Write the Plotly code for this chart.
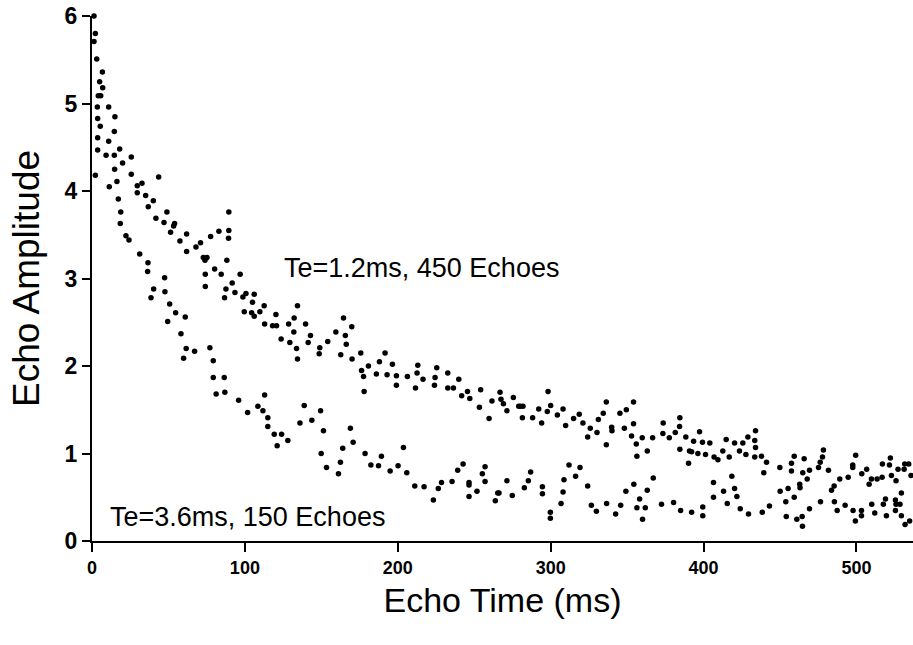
import plotly.graph_objects as go

# Te = 1.2 ms, 450 echoes (upper series): echo time (ms), amplitude
te12_time = [
    1.3, 2.2, 1.3, 3.1, 6.8, 5.0, 7.0, 5.7, 10.9, 15.0, 14.6, 18.1, 14.6, 25.7, 20.0, 25.7,
    43.6, 29.6, 32.7, 29.6, 35.1, 40.1, 36.8, 49.0, 41.8, 47.1, 54.0, 53.4, 51.4, 61.9, 57.5, 61.9,
    68.0, 71.0, 77.6, 83.0, 89.5, 89.5, 89.3, 72.8, 75.2, 73.9, 88.2, 80.2, 84.5, 74.1, 96.9, 74.1,
    91.7, 87.6, 93.5, 86.7, 100.7, 98.7, 106.1, 105.0, 99.6, 104.4, 106.1, 109.8, 112.6, 120.3,
    112.9, 118.1, 120.7, 128.6, 132.2, 134.4, 132.0, 123.7, 129.4, 133.8, 134.4,
    139.7, 142.9, 141.4, 149.0, 148.6, 154.2, 159.5, 164.5, 169.9, 165.7, 166.3, 162.7, 170.1,
    175.8, 176.3, 177.6, 178.0, 180.8, 186.0, 188.0, 191.7, 193.0, 196.5, 199.1, 199.1, 206.3,
    211.6, 213.1, 212.6, 216.5, 224.0, 224.4, 225.5, 232.7, 232.7, 236.4, 239.9, 241.8, 245.6,
    247.1, 254.2, 253.4, 259.7, 261.6, 266.9, 267.5, 269.1, 271.4, 275.6, 279.1,
    280.2, 281.9, 281.5, 288.2, 292.2, 294.1, 298.3, 297.8, 300.0, 304.4, 308.1, 309.8, 315.0,
    318.7, 321.1, 324.2, 325.9, 330.3, 331.2, 334.4, 336.4, 336.4, 339.9, 340.1, 345.3, 348.2,
    349.5, 354.2, 354.2, 352.9, 356.0, 356.4, 359.9, 363.2, 366.7, 373.6, 373.4, 377.6, 381.5,
    384.5, 384.3, 384.5, 388.4, 390.2, 390.8, 392.2, 393.5, 396.3, 397.4, 399.3, 401.3, 404.1,
    406.9, 409.4,
    412.6, 414.8, 416.8, 420.3, 423.5, 425.7, 429.0, 427.7, 434.0, 433.5, 434.0, 433.5, 437.9,
    441.2, 439.4, 449.9, 457.5, 459.3, 457.5, 465.8, 464.9, 469.3, 467.8, 475.2, 476.3, 477.8,
    478.4, 481.7, 489.1, 494.6, 497.6, 497.6, 499.5, 503.5, 506.7, 509.8, 508.3, 513.5, 516.8,
    517.0, 521.6, 522.2, 522.9, 525.9, 527.2, 531.2, 531.6, 534.2, 535.7,
]
te12_amp = [
    6.00, 5.80, 5.71, 5.51, 5.36, 5.25, 5.18, 5.09, 4.96, 4.85, 4.68, 4.48, 4.41, 4.39, 4.32, 4.19,
    4.16, 4.06, 4.09, 3.98, 3.95, 3.89, 3.82, 3.76, 3.69, 3.64, 3.63, 3.60, 3.53, 3.51, 3.43, 3.31,
    3.36, 3.41, 3.48, 3.54, 3.76, 3.55, 3.46, 3.24, 3.24, 3.21, 3.21, 3.11, 3.05, 3.05, 3.05, 2.91,
    2.95, 2.88, 2.84, 2.78, 2.83, 2.79, 2.82, 2.73, 2.62, 2.61, 2.57, 2.62, 2.69, 2.59,
    2.48, 2.46, 2.46, 2.48, 2.55, 2.69, 2.39, 2.31, 2.27, 2.20, 2.08,
    2.48, 2.35, 2.27, 2.21, 2.14, 2.28, 2.39, 2.55, 2.45, 2.35, 2.25, 2.13, 2.08,
    2.15, 1.95, 1.88, 1.71, 2.00, 1.91, 2.05, 2.15, 1.90, 2.02, 1.89, 1.78, 1.88,
    1.75, 2.01, 1.92, 1.85, 1.78, 1.87, 1.98, 1.92, 1.75, 1.75, 1.85, 1.66, 1.71,
    1.63, 1.73, 1.53, 1.40, 1.60, 1.70, 1.62, 1.57, 1.49, 1.64, 1.54,
    1.54, 1.54, 1.41, 1.41, 1.51, 1.35, 1.71, 1.48, 1.55, 1.44, 1.51, 1.32, 1.40,
    1.45, 1.35, 1.19, 1.29, 1.24, 1.39, 1.46, 1.59, 1.10, 1.30, 1.26, 1.46, 1.29,
    1.50, 1.59, 1.34, 1.20, 1.11, 0.97, 1.18, 1.03, 1.18, 1.35, 1.23, 1.18, 1.24,
    1.41, 1.31, 1.05, 1.19, 0.89, 1.03, 1.02, 1.14, 1.00, 1.25, 1.13, 0.99, 1.12,
    0.96, 0.93,
    1.03, 1.16, 0.96, 1.12, 1.03, 1.12, 1.19, 0.99, 1.26, 1.15, 1.07, 0.96, 0.97,
    0.90, 0.78, 0.84, 0.89, 0.97, 0.80, 0.94, 0.78, 0.81, 0.71, 0.84, 0.90, 0.96,
    1.04, 0.81, 0.71, 0.73, 0.87, 0.84, 0.98, 0.77, 0.82, 0.71, 0.65, 0.71, 0.73,
    0.88, 0.87, 0.95, 0.75, 0.69, 0.82, 0.82, 0.88, 0.88, 0.75,
]

# Te = 3.6 ms, 150 echoes (lower series)
te36_time = [
    4.1, 3.5, 3.7, 5.4, 3.7, 10.9, 3.7, 9.2, 2.2, 14.8, 16.3, 11.3, 17.2, 18.8, 18.5, 22.2,
    24.2, 31.2, 36.6, 36.4, 47.5, 40.3, 38.6, 47.7, 50.8, 54.7, 49.5, 61.0, 58.2, 61.6, 67.1,
    59.9, 77.1, 79.3, 79.3, 86.5, 81.2, 86.9, 95.9, 101.8, 108.5, 112.9, 111.8, 115.0, 115.0,
    119.2, 124.0, 121.1, 128.1, 136.0, 138.8, 143.8, 149.5, 169.0, 151.4, 149.9, 153.4, 161.2,
    162.5, 164.0, 170.8, 178.6, 182.4, 187.4, 189.3, 195.0, 200.2, 203.7, 205.9, 211.1, 217.2,
    223.3, 226.5, 228.6, 235.5, 239.2, 242.7, 246.6, 246.6, 246.6, 251.8, 255.3, 257.1, 257.1,
    263.8, 265.4, 266.2, 271.4, 274.9, 282.8, 285.4, 286.9, 294.6, 294.6, 299.8, 299.8, 306.8,
    308.1, 308.7, 312.0, 316.3, 319.2, 324.2, 326.6, 329.9, 336.6, 342.5, 345.8, 349.2, 354.4,
    358.2, 356.4, 361.9, 360.1, 363.2, 367.1, 372.5, 380.4, 385.0, 392.2, 399.5, 399.5, 406.5,
    406.5, 413.1, 415.5, 418.5, 420.3, 421.8, 424.0, 429.4, 438.4, 443.1, 450.1, 453.8, 455.3,
    454.1, 459.3, 461.0, 464.7, 464.5, 462.9, 463.1, 469.3, 476.5, 483.7, 485.4, 485.6, 487.4,
    492.6, 497.8, 499.3, 503.3, 503.3, 510.0, 512.0, 517.6, 519.0, 519.6, 525.5, 525.5, 525.9,
    528.5, 529.4, 529.4, 531.8, 534.8,
]
te36_amp = [
    5.09, 4.96, 4.83, 4.74, 4.61, 4.57, 4.47, 4.41, 4.18, 4.25, 4.11, 4.05, 3.91, 3.76, 3.63, 3.49,
    3.44, 3.28, 3.18, 3.08, 3.01, 2.88, 2.78, 2.85, 2.71, 2.61, 2.51, 2.56, 2.37, 2.20, 2.17,
    2.09, 2.21, 2.06, 1.87, 1.87, 1.68, 1.70, 1.61, 1.47, 1.54, 1.67, 1.49, 1.41, 1.31,
    1.22, 1.22, 1.09, 1.15, 1.35, 1.55, 1.38, 1.49, 1.29, 1.26, 1.00, 0.84, 0.77,
    0.90, 1.06, 1.13, 1.00, 0.87, 0.86, 0.97, 0.80, 0.86, 1.07, 0.78, 0.63, 0.62,
    0.47, 0.60, 0.67, 0.68, 0.81, 0.88, 0.67, 0.64, 0.51, 0.57, 0.77, 0.85, 0.68,
    0.46, 0.55, 0.55, 0.69, 0.52, 0.61, 0.69, 0.79, 0.62, 0.54, 0.33, 0.26, 0.43,
    0.56, 0.70, 0.87, 0.74, 0.84, 0.63, 0.41, 0.34, 0.43, 0.31, 0.41, 0.57, 0.65,
    0.48, 0.38, 0.38, 0.25, 0.58, 0.72, 0.42, 0.44, 0.35, 0.33, 0.39, 0.29, 0.50,
    0.67, 0.57, 0.43, 0.74, 0.60, 0.51, 0.37, 0.31, 0.33, 0.40, 0.57, 0.45, 0.60,
    0.28, 0.50, 0.25, 0.17, 0.28, 0.65, 0.61, 0.37, 0.45, 0.58, 0.63, 0.45, 0.35,
    0.41, 0.35, 0.23, 0.35, 0.29, 0.42, 0.32, 0.42, 0.48, 0.29, 0.47, 0.35, 0.42,
    0.42, 0.55, 0.29, 0.19, 0.23,
]

x_tick_values = [0, 100, 200, 300, 400, 500]
y_tick_values = [0, 1, 2, 3, 4, 5, 6]
label_upper = "Te=1.2ms, 450 Echoes"
label_lower = "Te=3.6ms, 150 Echoes"

FONT = "Liberation Sans, Arial, Helvetica, sans-serif"
NARROW = "Liberation Sans Narrow, Arial Narrow, Liberation Sans, sans-serif"

fig = go.Figure()
for tx, ty in [(te12_time, te12_amp), (te36_time, te36_amp)]:
    fig.add_trace(go.Scatter(
        x=tx, y=ty, mode="markers",
        marker=dict(size=5.5, color="black", line=dict(width=0)),
        cliponaxis=False, showlegend=False, hoverinfo="x+y",
    ))

fig.add_annotation(x=124, y=3.12, xref="x", yref="y", text=label_upper,
                   showarrow=False, xanchor="left", yanchor="middle",
                   font=dict(family=FONT, size=27, color="black"))
fig.add_annotation(x=10.5, y=0.27, xref="x", yref="y", text=label_lower,
                   showarrow=False, xanchor="left", yanchor="middle",
                   font=dict(family=FONT, size=27, color="black"))

fig.update_layout(
    width=913, height=645,
    margin=dict(l=92, r=0, t=16, b=104),
    paper_bgcolor="white", plot_bgcolor="white",
    font=dict(family=FONT, color="black"),
    xaxis=dict(
        range=[0, 537], tickvals=x_tick_values, ticktext=[str(v) for v in x_tick_values],
        showline=True, linecolor="black", linewidth=2, mirror=False,
        ticks="outside", ticklen=9, tickwidth=2, tickcolor="black",
        showgrid=False, zeroline=False,
        tickfont=dict(family=NARROW, size=18, color="black", weight="bold"),
        title=dict(text="Echo Time (ms)", font=dict(family=FONT, size=34, color="black"),
                   standoff=12),
    ),
    yaxis=dict(
        range=[0, 6], tickvals=y_tick_values, ticktext=[str(v) for v in y_tick_values],
        showline=True, linecolor="black", linewidth=2, mirror=False,
        ticks="outside", ticklen=8, tickwidth=2, tickcolor="black",
        showgrid=False, zeroline=False,
        tickfont=dict(family=FONT, size=23, color="black", weight="bold"),
        title=dict(text="Echo Amplitude", font=dict(family=FONT, size=37, color="black"),
                   standoff=14),
    ),
)

fig.write_html("out.html", config={"displayModeBar": False},
               post_script="document.body.style.margin='0px';")
